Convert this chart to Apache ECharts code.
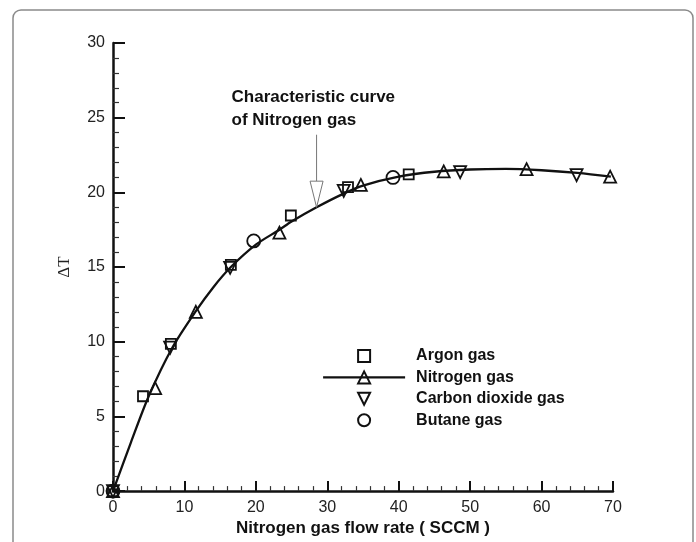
<!DOCTYPE html>
<html>
<head>
<meta charset="utf-8">
<script src="https://cdn.jsdelivr.net/npm/echarts@6/dist/echarts.min.js"></script>
<style>
  html, body { margin: 0; padding: 0; background: #fff; }
  #chart { width: 696px; height: 542px; }
</style>
</head>
<body>
<div id="chart"></div>
<script>
// Axis ticks
const xTicks = [0, 10, 20, 30, 40, 50, 60, 70];
const yTicks = [0, 5, 10, 15, 20, 25, 30];

// Measured temperature difference per gas
const argonFlow = [0, 4.2, 8.1, 16.5, 24.9, 32.9, 41.4];
const argonDT = [0, 6.35, 9.85, 15.15, 18.45, 20.35, 21.2];

const nitrogenFlow = [0, 5.9, 11.6, 23.3, 34.7, 46.3, 57.9, 69.6];
const nitrogenDT = [0, 6.9, 12.0, 17.3, 20.5, 21.4, 21.55, 21.05];

const co2Flow = [0, 8.0, 16.4, 32.3, 48.6, 64.9];
const co2DT = [0, 9.6, 14.95, 20.1, 21.35, 21.15];

const butaneFlow = [0, 19.7, 39.2];
const butaneDT = [0, 16.75, 21.0];

// Characteristic curve of nitrogen gas, sampled along the drawn curve
const curveFlow = [0, 2.5, 5, 8.3, 11.6, 14, 16.5, 20, 23.3, 25, 28.5, 32, 35, 40, 45, 50, 55, 60, 65, 69.7];
const curveDT = [0, 3.25, 6.35, 9.6, 12.05, 13.62, 15.0, 16.5, 17.5, 18.05, 19.0, 19.85, 20.45, 21.05, 21.38, 21.53, 21.57, 21.48, 21.3, 21.05];

// Annotation: text anchor and arrow (flow, ΔT)
const noteText = ['Characteristic curve', 'of Nitrogen gas'];
const noteAnchor = [16.6, 27.13];
const arrowTop = [28.5, 23.86];
const arrowHeadBase = [28.5, 20.75];
const arrowTip = [28.5, 19.0];

const pairs = (xs, ys) => xs.map((x, i) => [x, ys[i]]);

const FONT = 'Liberation Sans, Arial, sans-serif';
const hollow = { color: 'rgba(0,0,0,0)', borderColor: '#111', borderWidth: 1.8 };
// Marker-only series: drawn as line series with the connecting line hidden,
// so the legend shows just the symbol at its natural aspect.
const noLine = { color: '#111', width: 2, opacity: 0 };

const chart = echarts.init(document.getElementById('chart'), null, { renderer: 'canvas' });

const option = {
  animation: false,
  backgroundColor: '#fff',
  grid: { left: 113, right: 83, top: 43, bottom: 46, containLabel: false },
  xAxis: {
    type: 'value',
    min: xTicks[0], max: xTicks[xTicks.length - 1], interval: 10,
    name: 'Nitrogen gas flow rate ( SCCM )',
    nameLocation: 'middle', nameGap: 23,
    nameTextStyle: { fontFamily: FONT, fontWeight: 'bold', fontSize: 17, color: '#111' },
    axisLine: { lineStyle: { color: '#111', width: 2.5 } },
    axisTick: { inside: true, length: 10, lineStyle: { color: '#111', width: 2 } },
    minorTick: { show: true, splitNumber: 5, length: 5, lineStyle: { color: '#333', width: 1.2 } },
    axisLabel: { fontFamily: FONT, fontSize: 16, color: '#222', margin: 8 },
    splitLine: { show: false }
  },
  yAxis: {
    type: 'value',
    min: yTicks[0], max: yTicks[yTicks.length - 1], interval: 5,
    name: 'ΔT',
    nameLocation: 'middle', nameGap: 40, nameRotate: 90,
    nameTextStyle: { fontFamily: 'Liberation Serif, Times New Roman, serif', fontSize: 17, color: '#222' },
    axisLine: { lineStyle: { color: '#111', width: 2.5 } },
    axisTick: { inside: true, length: 12, lineStyle: { color: '#111', width: 2 } },
    minorTick: { show: true, splitNumber: 5, length: 6, lineStyle: { color: '#333', width: 1.2 } },
    axisLabel: { fontFamily: FONT, fontSize: 16, color: '#222', margin: 8 },
    splitLine: { show: false }
  },
  legend: {
    orient: 'vertical',
    left: 317, top: 343,
    itemWidth: 82, itemHeight: 15, itemGap: 5.4,
    textStyle: { fontFamily: FONT, fontWeight: 'bold', fontSize: 16, color: '#111', padding: [0, 0, 0, 6] },
    data: [
      'Argon gas',
      { name: 'Nitrogen gas', lineStyle: { color: '#111', width: 2.2, opacity: 1 } },
      'Carbon dioxide gas',
      'Butane gas'
    ]
  },
  series: [
    {
      name: 'Characteristic curve', type: 'line',
      smooth: 0.3, symbol: 'none',
      lineStyle: { color: '#111', width: 2.3 },
      data: pairs(curveFlow, curveDT), z: 2
    },
    {
      name: 'Argon gas', type: 'line',
      symbol: 'rect', symbolSize: 10, showAllSymbol: true,
      lineStyle: noLine,
      itemStyle: hollow,
      data: pairs(argonFlow, argonDT), z: 3
    },
    {
      name: 'Nitrogen gas', type: 'line',
      symbol: 'triangle', symbolSize: 12, showAllSymbol: true,
      lineStyle: noLine,
      itemStyle: hollow,
      data: pairs(nitrogenFlow, nitrogenDT), z: 4
    },
    {
      name: 'Carbon dioxide gas', type: 'line',
      symbol: 'triangle', symbolRotate: 180, symbolSize: 12, showAllSymbol: true,
      lineStyle: noLine,
      itemStyle: hollow,
      data: pairs(co2Flow, co2DT), z: 3
    },
    {
      name: 'Butane gas', type: 'line',
      symbol: 'circle', symbolSize: 13, showAllSymbol: true,
      lineStyle: noLine,
      itemStyle: hollow,
      data: pairs(butaneFlow, butaneDT), z: 3
    }
  ]
};

chart.setOption(option);

// Frame, annotation text and hollow arrow placed through the axes' scales
const px = p => chart.convertToPixel({ gridIndex: 0 }, p);
const a0 = px(arrowTop), a1 = px(arrowHeadBase), a2 = px(arrowTip);
const t0 = px(noteAnchor);
const half = 6.5;

chart.setOption({
  graphic: [
    {
      type: 'rect', silent: true, z: 0,
      shape: { x: 13, y: 10, width: 680, height: 600, r: 8 },
      style: { fill: 'none', stroke: '#8a8a8a', lineWidth: 1.5 }
    },
    {
      type: 'text', silent: true, z: 10,
      x: t0[0], y: t0[1],
      style: {
        text: noteText.join('\n'),
        font: 'bold 17px ' + FONT,
        lineHeight: 23,
        fill: '#111',
        textAlign: 'left', textVerticalAlign: 'top'
      }
    },
    {
      type: 'line', silent: true, z: 10,
      shape: { x1: a0[0], y1: a0[1], x2: a1[0], y2: a1[1] },
      style: { stroke: '#777', lineWidth: 1 }
    },
    {
      type: 'polygon', silent: true, z: 10,
      shape: { points: [[a1[0] - half, a1[1]], [a1[0] + half, a1[1]], [a2[0], a2[1]]] },
      style: { fill: '#fff', stroke: '#777', lineWidth: 1 }
    }
  ]
});
</script>
</body>
</html>
